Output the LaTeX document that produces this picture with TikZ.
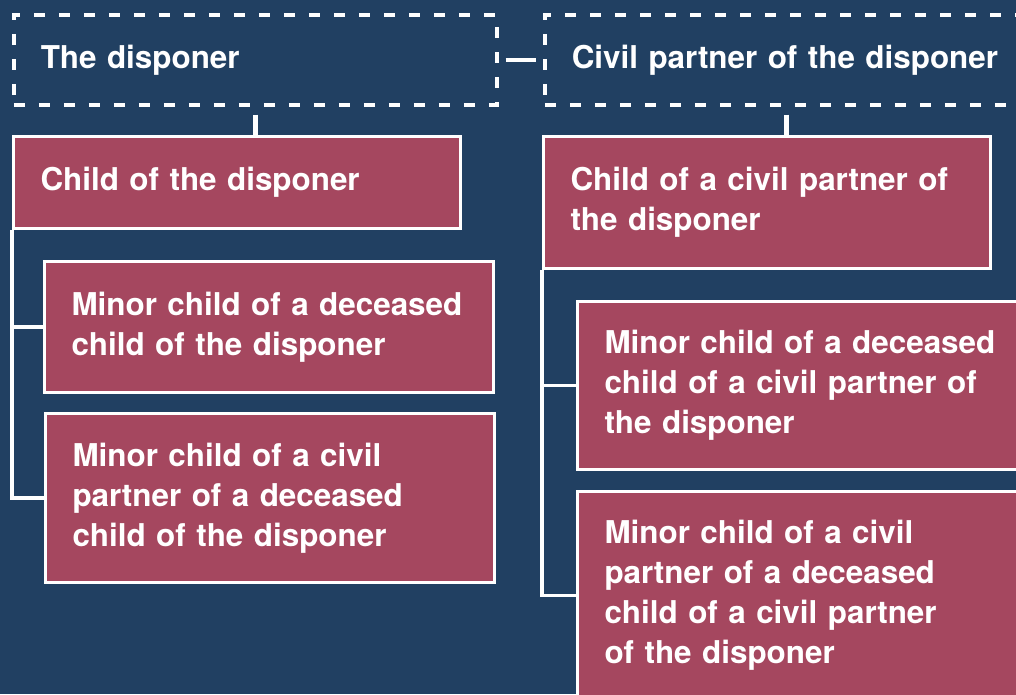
\documentclass[tikz,border=0pt]{standalone}
\usepackage{fontspec}
\setmainfont{TeX Gyre Heros}
\definecolor{navybg}{RGB}{33,64,98}
\definecolor{boxred}{RGB}{165,71,95}
\tikzset{
  lbl/.style={text=white, font=\bfseries\fontsize{31.4}{40}\selectfont,
    align=left, anchor=north west, inner xsep=27pt, inner ysep=0pt},
  kinbox/.style={lbl, draw=white, line width=3pt, fill=boxred},
  personbox/.style={lbl, draw=white, line width=3.5pt, dash pattern=on 11pt off 14pt},
  link/.style={draw=white, line width=4.5pt},
  trunk/.style={draw=white, line width=3.5pt},
}
\begin{document}
\begin{tikzpicture}[x=1pt,y=-1pt]
  \useasboundingbox (0,0) rectangle (1016,694);
  \clip (0,0) rectangle (1016,694);
  \fill[navybg] (0,0) rectangle (1016,694);

  % the disponer and the civil partner
  \node[personbox, minimum width=483pt, minimum height=90pt, text width=429pt] (d1) at (12,13)
    {\mbox{The disponer}};
  \node[personbox, minimum width=483pt, minimum height=90pt, text width=429pt] (d2) at (543,13)
    {\mbox{Civil partner of the disponer}};

  % children
  \node[kinbox, minimum width=447pt, minimum height=92pt, text width=393pt] (c1) at (12,135)
    {\mbox{Child of the disponer}};
  \node[kinbox, minimum width=447pt, minimum height=132pt, text width=393pt] (c2) at (542,135)
    {\mbox{Child of a civil partner of}\\\mbox{the disponer}};

  % grandchildren, disponer side
  \node[kinbox, minimum width=449pt, minimum height=131pt, text width=395pt] (ga) at (43,260)
    {\mbox{Minor child of a deceased}\\\mbox{child of the disponer}};
  \node[kinbox, minimum width=449pt, minimum height=169pt, text width=395pt] (gb) at (44,412)
    {\mbox{Minor child of a civil}\\\mbox{partner of a deceased}\\\mbox{child of the disponer}};

  % grandchildren, civil partner side
  \node[kinbox, minimum width=480pt, minimum height=168pt, text width=426pt] (gc) at (576,300)
    {\mbox{Minor child of a deceased}\\\mbox{child of a civil partner of}\\\mbox{the disponer}};
  \node[kinbox, minimum width=480pt, minimum height=208pt, text width=426pt] (gd) at (576,490)
    {\mbox{Minor child of a civil}\\\mbox{partner of a deceased}\\\mbox{child of a civil partner}\\\mbox{of the disponer}};

  % connectors
  \draw[link, shorten <=7pt, shorten >=7pt] (d1.east) -- (d2.west);
  \draw[link, shorten <=8pt] (d1.south) -- (d1.south |- c1.north);
  \draw[link, shorten <=8pt] (d2.south) -- (d2.south |- c2.north);

  \draw[trunk] (c1.south west) |- (gb.west);
  \draw[trunk] (c1.south west |- ga.west) -- (ga.west);
  \draw[trunk] (c2.south west) |- (gd.west);
  \draw[trunk] (c2.south west |- gc.west) -- (gc.west);
\end{tikzpicture}
\end{document}
